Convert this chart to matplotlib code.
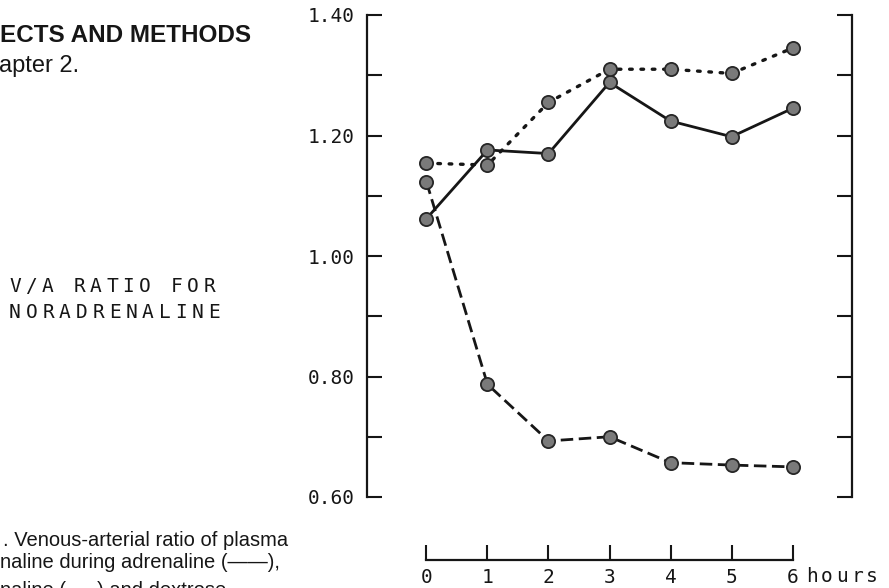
import numpy as np
import matplotlib.pyplot as plt

# V/A ratio for noradrenaline
horas = [0, 1, 2, 3, 4, 5, 6]
adrenalina = [1.062, 1.176, 1.170, 1.288, 1.224, 1.198, 1.245]   # linha cheia
noradrenalina = [1.123, 0.787, 0.693, 0.700, 0.657, 0.653, 0.650]  # tracejada
dextrose = [1.154, 1.151, 1.255, 1.310, 1.310, 1.303, 1.345]      # pontilhada

y_ticks = [0.6, 0.7, 0.8, 0.9, 1.0, 1.1, 1.2, 1.3, 1.4]
y_labels = ['0.60', '', '0.80', '', '1.00', '', '1.20', '', '1.40']

W, H = 889, 588
mono = 'DejaVu Sans Mono'
sans = 'Liberation Sans'
preto = '#161616'

fig = plt.figure(figsize=(W/100, H/100), dpi=100)

def px(x, y):
    return x/W, 1 - y/H

def espacado(x0, y, s, passo, **kw):
    # texto de maquina de escrever, letra a letra
    for i, c in enumerate(s):
        fig.text(*px(x0 + i*passo, y), c, ha='center', va='center', **kw)

# eixo principal
ax = fig.add_axes([367/W, 1 - 497/H, 485/W, 482/H])
ax.set_xlim(-0.975, 6.975)
ax.set_ylim(0.6, 1.4)
ax.spines['top'].set_visible(False)
ax.spines['bottom'].set_visible(False)
for s in ['left', 'right']:
    ax.spines[s].set_linewidth(1.6)
    ax.spines[s].set_color(preto)
ax.set_xticks([])
ax.set_yticks(y_ticks)
ax.set_yticklabels(y_labels, family=mono, fontsize=14, color=preto)
ax.tick_params(axis='y', direction='in', length=11, width=1.5, color=preto,
               pad=9, left=True, right=True)

mk = dict(marker='o', markersize=9.5, markerfacecolor='#7a7a7a',
          markeredgecolor='#262626', markeredgewidth=1.3, color=preto, zorder=3)
ax.plot(horas, adrenalina, linestyle='-', linewidth=2.0, **mk)
ax.plot(horas, noradrenalina, linestyle=(0, (4.5, 2.0)), linewidth=2.0, **mk)
ax.plot(horas, dextrose, linestyle=(0, (0.8, 2.6)), linewidth=2.4,
        dash_capstyle='round', **mk)

# eixo do tempo separado
ax2 = fig.add_axes([367/W, 1 - 560/H, 485/W, 0.02])
ax2.set_xlim(-0.975, 6.975)
ax2.set_ylim(0, 1)
for s in ['left', 'right', 'top']:
    ax2.spines[s].set_visible(False)
ax2.spines['bottom'].set_bounds(0, 6)
ax2.spines['bottom'].set_linewidth(1.6)
ax2.spines['bottom'].set_color(preto)
ax2.set_yticks([])
ax2.set_xticks(horas)
ax2.set_xticklabels([str(h) for h in horas], family=mono, fontsize=14, color=preto)
ax2.tick_params(axis='x', direction='in', length=11, width=1.5, color=preto, pad=6)
espacado(812, 577, 'hours', 15, family=mono, fontsize=14, color=preto)

# textos da pagina
fig.text(*px(0, 36), 'ECTS AND METHODS', family=sans, weight='bold',
         fontsize=17.5, color=preto, ha='left', va='center')
fig.text(*px(-1, 66), 'apter 2.', family=sans, fontsize=17,
         color=preto, ha='left', va='center')
espacado(15, 287, 'V/A RATIO FOR', 16.2, family=mono, fontsize=14, color=preto)
espacado(15, 312, 'NORADRENALINE', 16.6, family=mono, fontsize=14, color=preto)
fig.text(*px(3, 541), '. Venous-arterial ratio of plasma', family=sans,
         fontsize=14.5, color=preto, ha='left', va='center')
fig.text(*px(0, 563), 'naline during adrenaline (\u2014\u2014),', family=sans,
         fontsize=14.5, color=preto, ha='left', va='center')
fig.text(*px(0, 591), 'naline (- - -) and dextrose', family=sans,
         fontsize=14.5, color=preto, ha='left', va='center')

fig.savefig('out.png', dpi=100)
